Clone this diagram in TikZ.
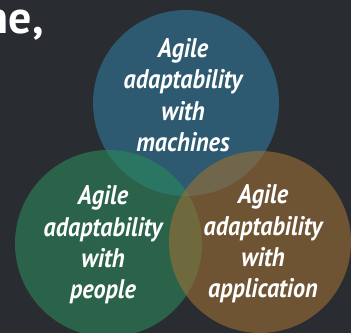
\documentclass[tikz,border=0pt]{standalone}
\usepackage{fontspec}
\setmainfont{PT Sans}
\newfontfamily\lblfont{PT Sans}[FakeStretch=0.9]
\definecolor{bgc}{RGB}{41,44,48}
\definecolor{bluec}{RGB}{48,121,155}
\definecolor{greenc}{RGB}{43,136,91}
\definecolor{brownc}{RGB}{158,111,53}
\tikzset{
  venn/.style={circle, inner sep=0pt, fill opacity=0.6, draw=none},
  lbl/.style={align=center, text=white, inner sep=0pt,
    font=\lblfont\bfseries\itshape\fontsize{27}{31.5}\selectfont},
}
\begin{document}
\begin{tikzpicture}[x=1bp,y=-1bp]
\fill[bgc] (0,0) rectangle (351,333);
\useasboundingbox (0,0) rectangle (351,333);
\node[anchor=base east, text=white, inner sep=0pt, font=\bfseries\fontsize{46}{48}\selectfont] (ne) at (44,33) {ne,};
\node[venn, minimum size=186bp, fill=bluec] (blue) at (186,103) {};
\node[venn, minimum size=187bp, fill=greenc] (green) at (108.5,243.5) {};
\node[venn, minimum size=182bp, fill=brownc] (brown) at (260,242) {};
\node[lbl] (tb) at (183,95) {Agile\\adaptability\\with\\machines};
\node[lbl] (tg) at (103,245) {Agile\\adaptability\\with\\people};
\node[lbl] (tr) at (263,244) {Agile\\adaptability\\with\\application};
\end{tikzpicture}
\end{document}
